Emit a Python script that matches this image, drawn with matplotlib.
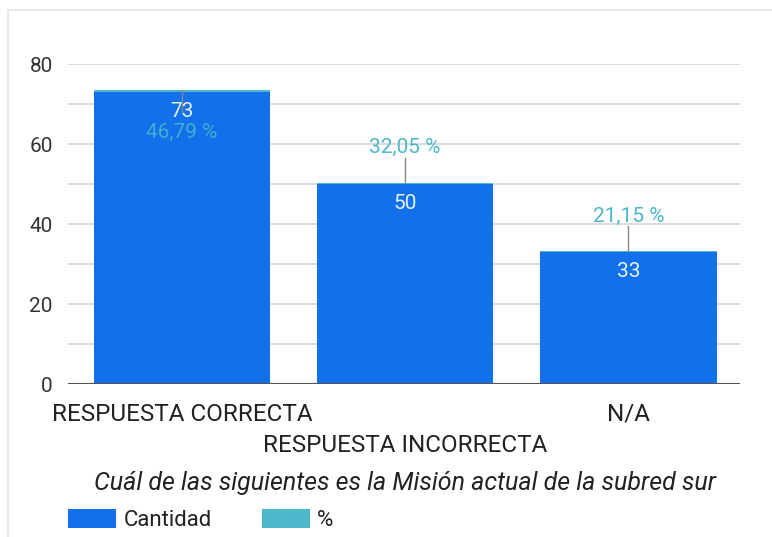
import matplotlib.pyplot as plt
from matplotlib.patches import Rectangle, Patch

plt.rcParams['font.family'] = ['Roboto', 'DejaVu Sans']

categorias = ["RESPUESTA CORRECTA", "RESPUESTA INCORRECTA", "N/A"]
cantidad = [73, 50, 33]
porcentaje = [46.79, 32.05, 21.15]
titulo = "Cuál de las siguientes es la Misión actual de la subred sur"

azul = "#1170ea"
teal = "#4cb8c9"

fig = plt.figure(figsize=(7.72, 5.37), dpi=100)
ax = fig.add_axes([68 / 772, 1 - 384 / 537, 672 / 772, 320 / 537])

# tarjeta de fondo
fig.patches.append(Rectangle((8 / 772, -0.1), 1.2, 1 - 10 / 537 + 0.1,
                             transform=fig.transFigure, facecolor="white",
                             edgecolor="#e4e4e4", linewidth=1.2, zorder=-1))

x = list(range(len(categorias)))
frac = [p / 100 for p in porcentaje]
ax.bar(x, cantidad, width=0.79, color=azul, zorder=3)
ax.bar(x, frac, width=0.79, bottom=cantidad, color=teal, zorder=3)

for i, (c, p, f) in enumerate(zip(cantidad, porcentaje, frac)):
    top = c + f
    ax.text(i, c - 4.8, str(c), ha="center", va="center", color="white",
            fontsize=15, alpha=0.9, zorder=5)
    lab = f"{p:.2f} %".replace(".", ",")
    if i == 0:
        ax.plot([i, i], [top, top - 5.5], color="#888888", lw=1, zorder=4)
        ax.text(i, c - 10, lab, ha="center", va="center", color=teal,
                fontsize=15, alpha=0.85, zorder=5)
    else:
        ax.plot([i, i], [top, top + 6.3], color="#888888", lw=1, zorder=4)
        ax.text(i, top + 8.8, lab, ha="center", va="center", color=teal,
                fontsize=15, zorder=5)

ax.set_xlim(-0.51, 2.5)
ax.set_ylim(0, 80)
ax.set_yticks(range(0, 81, 20))
ax.set_yticks(range(0, 81, 10), minor=True)
ax.grid(axis="y", which="both", color="#dddddd", lw=1.5, zorder=0)
ax.axhline(0, color="#555555", lw=1.5, zorder=4)
for s in ax.spines.values():
    s.set_visible(False)
ax.tick_params(axis="y", which="both", length=0, labelsize=15,
               labelcolor="#333333", pad=11)
ax.set_xticks(x)
ax.set_xticklabels([])
ax.tick_params(axis="x", length=0)

for i, cat in enumerate(categorias):
    dy = -19 if i % 2 == 0 else -50
    ax.annotate(cat, (i, 0), xytext=(0, dy), textcoords="offset pixels",
                ha="center", va="top", fontsize=17.5, color="#222222")

fig.text(405 / 772, 1 - 483 / 537, titulo, ha="center", va="center",
         fontsize=18, style="italic", color="#222222")

leg = fig.legend(handles=[Patch(facecolor=azul, label="Cantidad"),
                          Patch(facecolor=teal, label="%")],
                 loc="center left", bbox_to_anchor=(68 / 772, 1 - 520 / 537),
                 ncol=2, frameon=False, fontsize=16, handlelength=2.15,
                 handleheight=0.9, columnspacing=2.25, handletextpad=0.35,
                 borderpad=0, borderaxespad=0)
for t in leg.get_texts():
    t.set_color("#222222")

fig.savefig("out.png", dpi=100)
